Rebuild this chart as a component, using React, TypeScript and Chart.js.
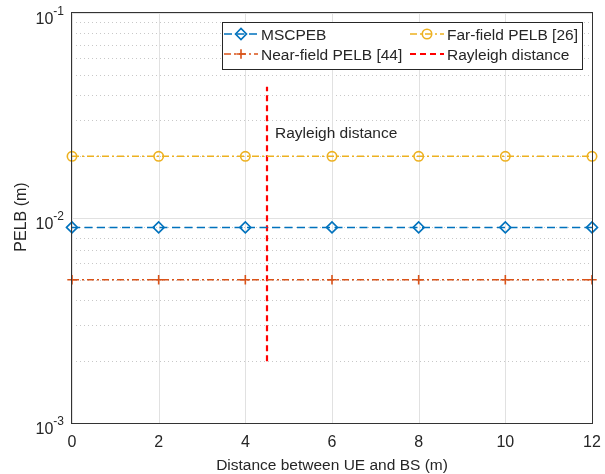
import React, { useEffect, useRef } from 'react';
import { Chart, registerables } from 'chart.js';

Chart.register(...registerables);

// ---- data ----
const distances = [0, 2, 4, 6, 8, 10, 12];
const mscpebValues = [0.009, 0.009, 0.009, 0.009, 0.009, 0.009, 0.009];
const farFieldValues = [0.02, 0.02, 0.02, 0.02, 0.02, 0.02, 0.02];
const nearFieldValues = [0.005, 0.005, 0.005, 0.005, 0.005, 0.005, 0.005];
const rayleighX = [4.5, 4.5];
const rayleighY = [0.002, 0.0437];
const seriesNames = ['MSCPEB', 'Far-field PELB [26]', 'Near-field PELB [44]', 'Rayleigh distance'];
const xTickValues = [0, 2, 4, 6, 8, 10, 12];
const yDecadeValues = [0.001, 0.01, 0.1];
const yDecadeExponents = ['-3', '-2', '-1'];
const xAxisTitle = 'Distance between UE and BS (m)';
const yAxisTitle = 'PELB (m)';
const annotationText = 'Rayleigh distance';
const annotationY = 0.0245;

const FONT = '"Liberation Sans", Arial, Helvetica, sans-serif';
const TEXT = '#262626';

function drawMarker(ctx: CanvasRenderingContext2D, style: string, x: number, y: number, r: number) {
  ctx.beginPath();
  if (style === 'rectRot') {
    ctx.moveTo(x - r, y);
    ctx.lineTo(x, y - r);
    ctx.lineTo(x + r, y);
    ctx.lineTo(x, y + r);
    ctx.closePath();
  } else if (style === 'circle') {
    ctx.arc(x, y, r, 0, Math.PI * 2);
  } else if (style === 'cross') {
    ctx.moveTo(x - r, y);
    ctx.lineTo(x + r, y);
    ctx.moveTo(x, y - r);
    ctx.lineTo(x, y + r);
  }
  ctx.stroke();
}

const matlabPlugin = {
  id: 'matlabAxes',
  beforeDatasetsDraw(chart: any) {
    const { ctx, chartArea: a, scales } = chart;
    const x = scales.x;
    const y = scales.y;
    ctx.save();
    ctx.lineWidth = 1;
    // minor y grid (dotted)
    ctx.strokeStyle = '#c8c8c8';
    ctx.setLineDash([1, 3]);
    for (let d = 0; d < yDecadeValues.length - 1; d++) {
      for (let m = 2; m <= 9; m++) {
        const py = Math.round(y.getPixelForValue(yDecadeValues[d] * m)) + 0.5;
        ctx.beginPath();
        ctx.moveTo(a.left, py);
        ctx.lineTo(a.right, py);
        ctx.stroke();
      }
    }
    // major grid
    ctx.setLineDash([]);
    ctx.strokeStyle = '#e1e1e1';
    xTickValues.forEach((v) => {
      const px = Math.round(x.getPixelForValue(v)) + 0.5;
      ctx.beginPath();
      ctx.moveTo(px, a.top);
      ctx.lineTo(px, a.bottom);
      ctx.stroke();
    });
    yDecadeValues.forEach((v) => {
      const py = Math.round(y.getPixelForValue(v)) + 0.5;
      ctx.beginPath();
      ctx.moveTo(a.left, py);
      ctx.lineTo(a.right, py);
      ctx.stroke();
    });
    ctx.restore();
  },
  afterDatasetsDraw(chart: any) {
    const { ctx, chartArea: a, scales } = chart;
    const x = scales.x;
    const y = scales.y;
    ctx.save();
    // axes box
    ctx.strokeStyle = '#333333';
    ctx.lineWidth = 1;
    ctx.setLineDash([]);
    ctx.strokeRect(a.left - 0.5, a.top - 0.5, a.right - a.left + 1, a.bottom - a.top + 1);

    ctx.fillStyle = TEXT;
    // x tick labels
    ctx.font = `16px ${FONT}`;
    ctx.textAlign = 'center';
    ctx.textBaseline = 'alphabetic';
    xTickValues.forEach((v) => {
      ctx.fillText(String(v), x.getPixelForValue(v), a.bottom + 24);
    });
    // y tick labels 10^n
    yDecadeValues.forEach((v, i) => {
      const py = y.getPixelForValue(v);
      ctx.textAlign = 'right';
      ctx.font = `12px ${FONT}`;
      const supRight = a.left - 8;
      const supW = ctx.measureText(yDecadeExponents[i]).width;
      ctx.fillText(yDecadeExponents[i], supRight, py + 1.5);
      ctx.font = `16px ${FONT}`;
      ctx.fillText('10', supRight - supW, py + 11);
    });
    // x title
    ctx.font = `15.5px ${FONT}`;
    ctx.textAlign = 'center';
    ctx.fillText(xAxisTitle, (a.left + a.right) / 2, 470);
    // y title
    ctx.save();
    ctx.translate(26, 217);
    ctx.rotate(-Math.PI / 2);
    ctx.textAlign = 'center';
    ctx.font = `16px ${FONT}`;
    ctx.fillText(yAxisTitle, 0, 0);
    ctx.restore();

    // annotation
    ctx.font = `15.5px ${FONT}`;
    ctx.textAlign = 'left';
    ctx.fillText(annotationText, x.getPixelForValue(rayleighX[0]) + 8, y.getPixelForValue(annotationY));

    // legend
    const lx = 222.5, ly = 22.5, lw = 360, lh = 47;
    ctx.fillStyle = '#ffffff';
    ctx.fillRect(lx, ly, lw, lh);
    ctx.strokeStyle = '#262626';
    ctx.lineWidth = 1;
    ctx.strokeRect(lx, ly, lw, lh);
    const colX = [224, 410];
    const rowY = [34, 54];
    chart.data.datasets.forEach((ds: any, i: number) => {
      const x0 = colX[i % 2];
      const yy = rowY[Math.floor(i / 2)];
      ctx.strokeStyle = ds.borderColor;
      ctx.lineWidth = ds.borderWidth;
      ctx.setLineDash(ds.borderDash || []);
      ctx.beginPath();
      ctx.moveTo(x0, yy);
      ctx.lineTo(x0 + 34, yy);
      ctx.stroke();
      ctx.setLineDash([]);
      if (ds.pointRadius > 0) {
        ctx.lineWidth = ds.pointBorderWidth;
        drawMarker(ctx, ds.pointStyle, x0 + 17, yy, ds.pointRadius);
      }
      ctx.fillStyle = TEXT;
      ctx.font = `15.5px ${FONT}`;
      ctx.textAlign = 'left';
      ctx.fillText(ds.label, x0 + 37, yy + 6);
    });
    ctx.restore();
  },
};

export default function App() {
  const canvasRef = useRef<HTMLCanvasElement | null>(null);

  useEffect(() => {
    if (!canvasRef.current) return;
    const pts = (vals: number[]) => distances.map((d, i) => ({ x: d, y: vals[i] }));
    const common = {
      borderWidth: 1.5,
      pointBorderWidth: 1.6,
      pointBackgroundColor: 'rgba(0,0,0,0)',
      tension: 0,
      clip: false as any,
      fill: false,
    };
    const chart = new Chart(canvasRef.current, {
      type: 'line',
      data: {
        datasets: [
          {
            ...common,
            label: seriesNames[0],
            data: pts(mscpebValues),
            borderColor: '#0072BD',
            pointBorderColor: '#0072BD',
            borderDash: [8, 4.5],
            pointStyle: 'rectRot',
            pointRadius: 5.5,
          },
          {
            ...common,
            label: seriesNames[1],
            data: pts(farFieldValues),
            borderColor: '#EDB120',
            pointBorderColor: '#EDB120',
            borderDash: [7, 3, 2, 3],
            pointStyle: 'circle',
            pointRadius: 4.7,
          },
          {
            ...common,
            label: seriesNames[2],
            data: pts(nearFieldValues),
            borderColor: '#D95319',
            pointBorderColor: '#D95319',
            borderDash: [7, 3, 2, 3],
            pointStyle: 'cross',
            pointRadius: 4.7,
          },
          {
            ...common,
            label: seriesNames[3],
            data: rayleighX.map((v, i) => ({ x: v, y: rayleighY[i] })),
            borderColor: '#FF0000',
            borderWidth: 2.2,
            borderDash: [6, 4],
            pointRadius: 0,
          },
        ],
      },
      options: {
        animation: false,
        responsive: false,
        devicePixelRatio: 1,
        events: [],
        layout: { padding: { left: 72, right: 13, top: 13, bottom: 51 } },
        plugins: { legend: { display: false }, tooltip: { enabled: false } },
        scales: {
          x: { type: 'linear', min: 0, max: 12, display: false },
          y: { type: 'logarithmic', min: 0.001, max: 0.1, display: false },
        },
      } as any,
      plugins: [matlabPlugin],
    });
    return () => chart.destroy();
  }, []);

  return (
    <div style={{ position: 'fixed', left: 0, top: 0, width: 605, height: 474, background: '#ffffff' }}>
      <canvas ref={canvasRef} width={605} height={474} style={{ width: 605, height: 474, display: 'block' }} />
    </div>
  );
}
